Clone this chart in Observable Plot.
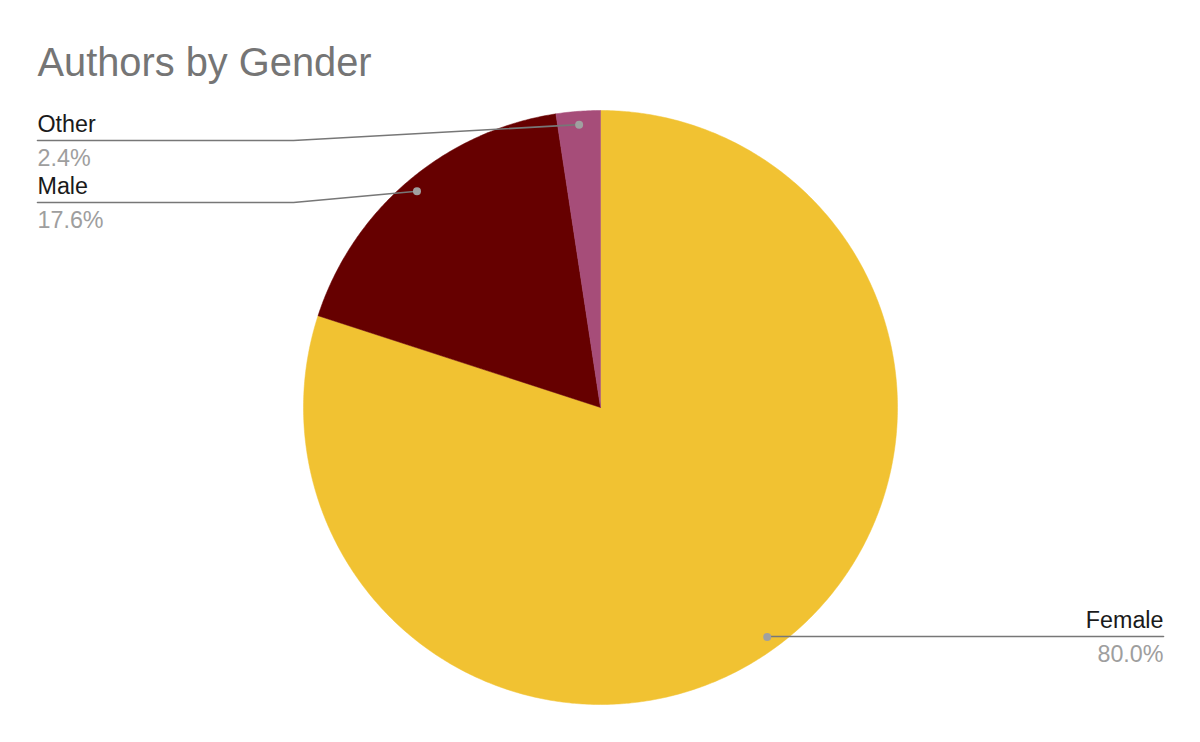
<!DOCTYPE html>
<html><head><meta charset="utf-8">
<script src="https://cdn.jsdelivr.net/npm/d3@7"></script>
<script src="https://cdn.jsdelivr.net/npm/@observablehq/plot@0.6"></script>
<style>body{margin:0;background:#fff;} svg{display:block}</style>
</head><body><div id="chart"></div>
<script>
// ---- data ----
const categories = ["Female", "Male", "Other"];
const values = [80.0, 17.6, 2.4];
const colors = ["#f1c232", "#660000", "#a64d79"];
const chartTitle = "Authors by Gender";

// ---- layout ----
const W = 1200, H = 742;
const cx = 600, cy = 407, R = 297;        // pie centre / radius (px)
const dotR = 0.955;                        // leader dot at fraction of radius
const labelSide = ["right", "left", "left"];
const labelLineY = [636, 202, 140];
const kinkX = 293, leftX = 37, rightX = 1163;
const FONT = "'Liberation Sans', Arial, sans-serif";

const total = d3.sum(values);
let acc = 0;
const slices = categories.map((c, i) => {
  const a0 = acc / total * 2 * Math.PI;
  acc += values[i];
  const a1 = acc / total * 2 * Math.PI;
  return {cat: c, value: values[i], a0, a1};
});
const pt = (a, r) => ({x: cx + r * Math.sin(a), y: cy - r * Math.cos(a)});

// slice outlines
const polys = [];
slices.forEach(s => {
  polys.push({cat: s.cat, ...pt(0, 0)});
  const n = Math.max(4, Math.ceil((s.a1 - s.a0) / (Math.PI / 360)));
  for (let k = 0; k <= n; k++) polys.push({cat: s.cat, ...pt(s.a0 + (s.a1 - s.a0) * k / n, R)});
  polys.push({cat: s.cat, ...pt(0, 0)});
});

// leaders
const dots = [], leaders = [], labels = [];
slices.forEach((s, i) => {
  const p = pt((s.a0 + s.a1) / 2, R * dotR);
  dots.push({cat: s.cat, ...p});
  const ly = labelLineY[i];
  if (labelSide[i] === "left") {
    leaders.push({cat: s.cat, x: p.x, y: p.y});
    leaders.push({cat: s.cat, x: kinkX, y: ly});
    leaders.push({cat: s.cat, x: leftX, y: ly});
  } else {
    leaders.push({cat: s.cat, x: p.x, y: ly});
    leaders.push({cat: s.cat, x: rightX, y: ly});
  }
  labels.push({cat: s.cat, side: labelSide[i], x: labelSide[i] === "left" ? leftX : rightX, y: ly,
               pct: s.value.toFixed(1) + "%"});
});

const textMarks = side => [
  Plot.text(labels.filter(d => d.side === side), {x: "x", y: "y", text: "cat", dy: -9, lineAnchor: "bottom",
    textAnchor: side === "left" ? "start" : "end", fill: "#1a1a1a", fontSize: 23.3, fontFamily: FONT}),
  Plot.text(labels.filter(d => d.side === side), {x: "x", y: "y", text: "pct", dy: 25, lineAnchor: "bottom",
    textAnchor: side === "left" ? "start" : "end", fill: "#9e9e9e", fontSize: 23.3, fontFamily: FONT})
];

const chart = Plot.plot({
  width: W, height: H, margin: 0,
  style: {fontFamily: FONT, background: "#fff"},
  x: {domain: [0, W], range: [0, W], axis: null},
  y: {domain: [0, H], range: [0, H], axis: null},
  color: {domain: categories, range: colors},
  marks: [
    Plot.line(polys, {x: "x", y: "y", z: "cat", fill: "cat", stroke: "cat", strokeWidth: 0.5, curve: "linear"}),
    Plot.line(leaders, {x: "x", y: "y", z: "cat", stroke: "#777", strokeWidth: 1.6}),
    Plot.dot(dots, {x: "x", y: "y", r: 4, fill: "#a0a0a0", stroke: null}),
    ...textMarks("left"),
    ...textMarks("right"),
    Plot.text([chartTitle], {frameAnchor: "top-left", dx: 37, dy: 75, lineAnchor: "bottom", text: d => d,
      fill: "#757575", fontSize: 39.8, fontFamily: FONT})
  ]
});
document.getElementById("chart").appendChild(chart);
</script>
</body></html>
